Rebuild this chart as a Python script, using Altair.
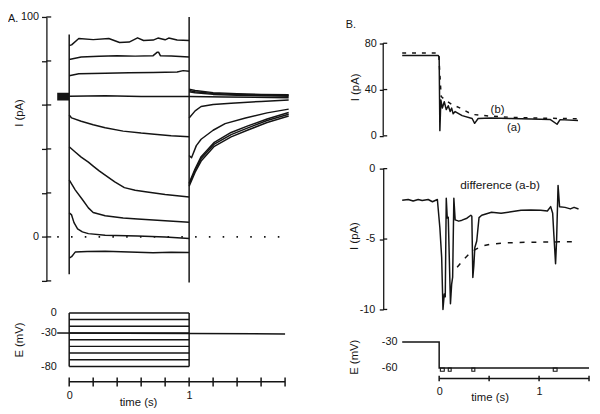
import altair as alt
import pandas as pd

FONT = "Liberation Sans"
INK = "#141414"
LW = 1.5

# ---------------- Panel A : currents (pA) ----------------
hold_t0, hold_t1, hold_lo, hold_hi = -0.1, 0.0, 62.0, 65.5

i0_t = [0.0, 0.02, 0.08, 0.2, 0.33, 0.42, 0.5, 0.57, 0.62, 0.7, 0.74, 0.8, 0.83, 0.9, 1.0]
i0_v = [87.0, 87.3, 90.2, 89.7, 90.2, 88.4, 88.6, 90.5, 89.3, 89.5, 90.4, 89.6, 90.4, 89.5, 89.3]
i10_t = [0.0, 0.1, 0.25, 0.4, 0.55, 0.7, 0.735, 0.745, 0.76, 0.85, 1.0]
i10_v = [80.7, 81.8, 82.1, 82.4, 82.2, 82.4, 84.0, 84.0, 82.4, 82.3, 81.8]
i20_t = [0.0, 0.08, 0.3, 0.5, 0.7, 0.9, 0.95, 1.0]
i20_v = [73.3, 74.2, 74.4, 74.6, 74.8, 75.0, 75.6, 75.3]
i30_t = [0.0, 0.3, 0.6, 1.0, 1.3, 1.83]
i30_v = [64.0, 64.2, 63.8, 63.8, 63.6, 63.3]
i40_t = [0.0, 0.02, 0.1, 0.2, 0.3, 0.45, 0.6, 0.71, 0.85, 1.0]
i40_v = [55.5, 54.1, 52.6, 51.0, 49.6, 48.1, 47.2, 46.7, 46.0, 45.5]
i50_t = [0.0, 0.05, 0.1, 0.16, 0.2, 0.25, 0.3, 0.38, 0.46, 0.55, 0.65, 0.8, 1.0]
i50_v = [41.0, 38.6, 36.3, 34.0, 32.2, 30.0, 28.1, 25.0, 22.4, 21.2, 20.4, 19.3, 18.1]
i60_t = [0.0, 0.05, 0.11, 0.16, 0.2, 0.3, 0.45, 0.57, 0.8, 1.0]
i60_v = [25.9, 21.4, 17.0, 13.2, 11.1, 9.6, 8.6, 8.1, 7.3, 6.7]
i70_t = [0.0, 0.02, 0.04, 0.07, 0.11, 0.16, 0.3, 0.57, 0.8, 1.0]
i70_v = [11.0, 10.0, 6.5, 3.7, 2.3, 1.5, 0.8, 0.4, 0.0, -0.7]
i80_t = [0.0, 0.02, 0.05, 0.15, 0.3, 0.5, 0.7, 0.85, 1.0]
i80_v = [-9.6, -9.0, -6.9, -6.6, -6.5, -6.9, -7.2, -7.0, -7.1]

tail_hi_t = [1.0, 1.05, 1.2, 1.4, 1.6, 1.83]
tail0_v = [67.2, 66.6, 65.6, 65.1, 64.8, 64.6]
tail10_v = [66.6, 66.0, 65.2, 64.8, 64.5, 64.3]
tail20_v = [66.0, 65.5, 64.8, 64.4, 64.2, 64.0]
tail40_t = [1.0, 1.05, 1.1, 1.2, 1.35, 1.6, 1.83]
tail40_v = [54.1, 57.3, 59.3, 60.2, 60.8, 61.6, 62.2]
tail50_t = [1.0, 1.02, 1.06, 1.1, 1.2, 1.3, 1.47, 1.65, 1.83]
tail50_v = [37.0, 36.0, 41.5, 44.4, 48.5, 51.5, 54.1, 56.4, 58.1]
tail_lo_t = [1.0, 1.05, 1.1, 1.21, 1.35, 1.49, 1.65, 1.83]
tail60_v = [24.5, 31.0, 36.5, 43.0, 47.5, 50.5, 53.6, 56.6]
tail70_v = [23.8, 30.3, 35.6, 42.2, 46.5, 49.6, 52.9, 55.8]
tail80_v = [23.0, 29.4, 34.5, 41.2, 45.5, 48.6, 52.0, 55.0]

trans_t = [0.0, 1.0]
trans_top = [92.0, 100.0]
trans_bot = [-17.0, -20.7]
zero_t0, zero_t1 = -0.1, 1.83
iA_ticks = [-20, 0, 20, 40, 60, 80, 100]

# ---------------- Panel A : voltage protocol (mV) ----------------
step_levels = [0, -10, -20, -30, -40, -50, -60, -70, -80]
step_t = [0.0, 1.0]
holdE_t = [-0.1, 1.8]
holdE_v = [-30.0, -31.5]
edgeE_t = [0.0, 1.0]
edgeE_top, edgeE_bot = 0, -80
timeA_ticks = [0.0, 0.2, 0.4, 0.6, 0.8, 1.0, 1.2, 1.4, 1.6, 1.8]
timeA_axis_y = -103

# ---------------- Panel B : currents (a), (b) ----------------
ia_t = [-0.37, -0.01, 0.0, 0.007, 0.017, 0.032, 0.051, 0.071, 0.091, 0.11, 0.125, 0.14, 0.16,
        0.23, 0.33, 0.355, 0.39, 0.52, 0.72, 0.92, 1.11, 1.18, 1.21, 1.39]
ia_v = [69.5, 69.5, 68.0, 4.5, 31.0, 24.0, 29.5, 22.7, 26.0, 21.0, 24.0, 19.0, 21.0,
        17.5, 15.0, 10.8, 15.0, 15.5, 15.0, 14.6, 14.2, 10.0, 14.0, 13.3]
ib_t = [-0.37, -0.005, 0.02, 0.06, 0.13, 0.2, 0.33, 0.52, 0.72, 1.0, 1.39]
ib_v = [71.5, 71.5, 34.0, 31.0, 27.0, 24.4, 18.5, 17.0, 16.0, 15.3, 14.8]
iB_ticks = [0, 40, 80]
iB_axis_top = 80

# ---------------- Panel B : difference (a-b) ----------------
d_t = [-0.37, -0.31, -0.26, -0.21, -0.17, -0.11, -0.067, -0.018, 0.007, 0.025, 0.038, 0.051, 0.061,
       0.071, 0.081, 0.091, 0.113, 0.125, 0.135, 0.147, 0.16, 0.196, 0.229, 0.278, 0.317, 0.327,
       0.337, 0.347, 0.357, 0.376, 0.399, 0.426, 0.524, 0.62, 0.72, 0.82, 0.917, 1.016, 1.083,
       1.116, 1.136, 1.148, 1.165, 1.175, 1.19, 1.205, 1.26, 1.313, 1.35, 1.395]
d_v = [-2.24, -2.19, -2.3, -2.19, -2.26, -2.19, -2.35, -2.19, -4.2, -6.3, -10.0, -8.9, -9.1,
       -2.1, -3.5, -3.45, -9.6, -8.2, -7.7, -2.1, -3.64, -3.73, -3.66, -3.52, -3.31, -3.38,
       -7.73, -6.9, -5.6, -5.14, -3.48, -3.31, -3.1, -3.17, -3.06, -2.96, -2.94, -2.96, -3.01,
       -2.7, -3.17, -4.7, -6.75, -5.16, -1.19, -2.7, -2.75, -2.86, -2.75, -2.87]
fit_t = [0.18, 0.24, 0.3, 0.36, 0.43, 0.52, 0.65, 0.8, 1.0, 1.2, 1.39]
fit_v = [-7.0, -6.5, -6.05, -5.75, -5.5, -5.36, -5.28, -5.24, -5.22, -5.2, -5.2]
dB_ticks = [0, -5, -10]

# ---------------- Panel B : voltage (mV) ----------------
eB_t = [-0.37, 0.0, 0.0, 1.5]
eB_v = [-30.0, -30.0, -60.0, -60.0]
blip_t0 = [0.012, 0.091, 0.327, 1.142]
blip_t1 = [0.051, 0.12, 0.357, 1.18]
blip_top, blip_bot = -60.0, -63.7
timeB_ticks = [0.0, 0.5, 1.0, 1.5]
timeB_axis_y = -72


def rows(name, ts, vs):
    return [{"seg": name, "i": k, "t": t, "v": v} for k, (t, v) in enumerate(zip(ts, vs))]


def neg_label():
    return "datum.value < 0 ? '-' + abs(datum.value) : '' + datum.value"


def panel_title(txt, dx):
    return alt.TitleParams(txt, anchor="start", frame="group", dx=dx, dy=13, offset=0,
                           fontSize=11, fontWeight="normal", font=FONT, color=INK)


def inner_ticks(values, x0, dx, xscale, yscale, yaxis):
    # the half of each axis tick that crosses into the plot, as in the original figure
    df = pd.DataFrame({"t0": [x0] * len(values), "t1": [x0 + dx] * len(values), "v": values})
    return alt.Chart(df).mark_rule(color=INK, strokeWidth=1.3).encode(
        x=alt.X("t0:Q", scale=xscale, axis=None), x2="t1:Q",
        y=alt.Y("v:Q", scale=yscale, axis=yaxis))


# ======== A1 ========
segs = [("s0", i0_t, i0_v), ("s10", i10_t, i10_v), ("s20", i20_t, i20_v), ("s30", i30_t, i30_v),
        ("s40", i40_t, i40_v), ("s50", i50_t, i50_v), ("s60", i60_t, i60_v), ("s70", i70_t, i70_v),
        ("s80", i80_t, i80_v), ("t0", tail_hi_t, tail0_v), ("t10", tail_hi_t, tail10_v),
        ("t20", tail_hi_t, tail20_v), ("t40", tail40_t, tail40_v), ("t50", tail50_t, tail50_v),
        ("t60", tail_lo_t, tail60_v), ("t70", tail_lo_t, tail70_v), ("t80", tail_lo_t, tail80_v)]
dfA1 = pd.DataFrame([r for s in segs for r in rows(*s)])

xA_dom = [-0.19, 1.83]
xA = alt.Scale(domain=xA_dom, nice=False, zero=False)
yA1 = alt.Scale(domain=[-20, 100], nice=False, zero=False)
axA1 = alt.Axis(values=iA_ticks, grid=False, tickSize=5, labelPadding=3, labelFlush=False,
                labelExpr="datum.value == 0 || datum.value == 100 ? '' + datum.value : ''",
                title="I (pA)", titleX=-27, titleY=97, titleBaseline="middle")

A1_lines = alt.Chart(dfA1).mark_line(color=INK, strokeWidth=LW, strokeJoin="round").encode(
    x=alt.X("t:Q", scale=xA, axis=None), y=alt.Y("v:Q", scale=yA1, axis=axA1),
    detail="seg:N", order="i:Q")
A1_hold = alt.Chart(pd.DataFrame({"t0": [hold_t0], "t1": [hold_t1], "lo": [hold_lo], "hi": [hold_hi]})).mark_rect(
    color=INK).encode(x=alt.X("t0:Q", scale=xA, axis=None), x2="t1:Q",
                      y=alt.Y("lo:Q", scale=yA1, axis=axA1), y2="hi:Q")
A1_zero = alt.Chart(pd.DataFrame({"t0": [zero_t0], "t1": [zero_t1], "v": [0]})).mark_rule(
    color=INK, strokeWidth=1.6, strokeDash=[1.6, 12.4]).encode(
    x=alt.X("t0:Q", scale=xA, axis=None), x2="t1:Q", y=alt.Y("v:Q", scale=yA1, axis=axA1))
A1_trans = alt.Chart(pd.DataFrame({"t": trans_t, "top": trans_top, "bot": trans_bot})).mark_rule(
    color=INK, strokeWidth=LW).encode(
    x=alt.X("t:Q", scale=xA, axis=None), y=alt.Y("top:Q", scale=yA1, axis=axA1), y2="bot:Q")
A1_tin = inner_ticks(iA_ticks, xA_dom[0], 0.04, xA, yA1, axA1)

A1 = alt.layer(A1_zero, A1_hold, A1_trans, A1_tin, A1_lines).properties(
    width=246, height=268, title=panel_title("A.", -39))

# ======== A2 ========
dfSteps = pd.DataFrame([{"seg": f"L{lv}", "i": k, "t": t, "v": lv}
                        for lv in step_levels for k, t in enumerate(step_t)])
dfHoldE = pd.DataFrame(rows("hold", holdE_t, holdE_v))
dfStepsAll = pd.concat([dfSteps, dfHoldE], ignore_index=True)

yA2 = alt.Scale(domain=[timeA_axis_y, 0], nice=False, zero=False)
axA2y = alt.Axis(values=[0, -30, -80], grid=False, domain=False, ticks=False, tickSize=0,
                 labelPadding=-10, labelFlush=False, labelExpr=neg_label(),
                 title="E (mV)", titleX=-27, titleY=27, titleBaseline="middle")
axA2x = alt.Axis(values=[0, 1], grid=False, domain=False, ticks=False, tickSize=0, labelPadding=8,
                 labelFlush=False, format="d", title="time (s)", titleX=93, titleY=21,
                 titleBaseline="middle")

A2_lines = alt.Chart(dfStepsAll).mark_line(color=INK, strokeWidth=LW).encode(
    x=alt.X("t:Q", scale=xA, axis=axA2x), y=alt.Y("v:Q", scale=yA2, axis=axA2y),
    detail="seg:N", order="i:Q")
A2_edges = alt.Chart(pd.DataFrame({"t": edgeE_t, "top": [edgeE_top] * 2, "bot": [edgeE_bot] * 2})).mark_rule(
    color=INK, strokeWidth=LW).encode(
    x=alt.X("t:Q", scale=xA, axis=axA2x), y=alt.Y("top:Q", scale=yA2, axis=axA2y), y2="bot:Q")
A2_axis = alt.Chart(pd.DataFrame({"t0": [timeA_ticks[0]], "t1": [timeA_ticks[-1]], "v": [timeA_axis_y]})).mark_rule(
    color=INK, strokeWidth=LW).encode(
    x=alt.X("t0:Q", scale=xA, axis=axA2x), x2="t1:Q", y=alt.Y("v:Q", scale=yA2, axis=axA2y))
A2_ticks = alt.Chart(pd.DataFrame({"t": timeA_ticks, "top": [timeA_axis_y + 6.5] * len(timeA_ticks),
                                   "bot": [timeA_axis_y - 7.0] * len(timeA_ticks)})).mark_rule(
    color=INK, strokeWidth=LW).encode(
    x=alt.X("t:Q", scale=xA, axis=axA2x), y=alt.Y("top:Q", scale=yA2, axis=axA2y), y2="bot:Q")

A2 = alt.layer(A2_lines, A2_edges, A2_axis, A2_ticks).properties(width=246, height=70)

colA = alt.vconcat(A1, A2, spacing=32.5, bounds="flush")

# ======== B1 (plot area reaches up to the top of panel A; axis line drawn 0..80) ========
xB_dom = [-0.56, 1.51]
xB = alt.Scale(domain=xB_dom, nice=False, zero=False)
B1_height = 120.7
yB1 = alt.Scale(domain=[0, 80 * B1_height / 94.0], nice=False, zero=False)
axB1 = alt.Axis(values=iB_ticks, grid=False, domain=False, tickSize=4, labelPadding=3,
                labelFlush=False, title="I (pA)", titleX=-28, titleY=71, titleBaseline="middle")

dfA = pd.DataFrame(rows("a", ia_t, ia_v))
dfB = pd.DataFrame(rows("b", ib_t, ib_v))
B1_axisline = alt.Chart(pd.DataFrame({"t": [xB_dom[0]], "lo": [0], "hi": [iB_axis_top]})).mark_rule(
    color=INK, strokeWidth=1.3).encode(
    x=alt.X("t:Q", scale=xB, axis=None), y=alt.Y("lo:Q", scale=yB1, axis=axB1), y2="hi:Q")
B1_tin = inner_ticks(iB_ticks, xB_dom[0], 0.04, xB, yB1, axB1)
B1_a = alt.Chart(dfA).mark_line(color=INK, strokeWidth=LW, strokeJoin="round").encode(
    x=alt.X("t:Q", scale=xB, axis=None), y=alt.Y("v:Q", scale=yB1, axis=axB1), order="i:Q")
B1_b = alt.Chart(dfB).mark_line(color=INK, strokeWidth=1.5, strokeDash=[4, 6]).encode(
    x=alt.X("t:Q", scale=xB, axis=None), y=alt.Y("v:Q", scale=yB1, axis=axB1), order="i:Q")
B1_txt = alt.Chart(pd.DataFrame({"t": [0.584, 0.748], "v": [22.7, 6.6], "s": ["(b)", "(a)"]})).mark_text(
    font=FONT, fontSize=11.5, color=INK).encode(
    x=alt.X("t:Q", scale=xB, axis=None), y=alt.Y("v:Q", scale=yB1, axis=axB1), text="s:N")

B1 = alt.layer(B1_axisline, B1_tin, B1_b, B1_a, B1_txt).properties(
    width=210, height=B1_height, title=panel_title("B.", -38))

# ======== B2 ========
yB2 = alt.Scale(domain=[-10, 0], nice=False, zero=False)
axB2 = alt.Axis(values=dB_ticks, grid=False, tickSize=4, labelPadding=4.5, labelFlush=False,
                labelExpr=neg_label(), title="I (pA)", titleX=-29.5, titleY=68, titleBaseline="middle")
dfD = pd.DataFrame(rows("d", d_t, d_v))
dfF = pd.DataFrame(rows("f", fit_t, fit_v))
B2_tin = inner_ticks(dB_ticks, xB_dom[0], 0.04, xB, yB2, axB2)
B2_d = alt.Chart(dfD).mark_line(color=INK, strokeWidth=LW, strokeJoin="round").encode(
    x=alt.X("t:Q", scale=xB, axis=None), y=alt.Y("v:Q", scale=yB2, axis=axB2), order="i:Q")
B2_f = alt.Chart(dfF).mark_line(color=INK, strokeWidth=1.5, strokeDash=[5, 7]).encode(
    x=alt.X("t:Q", scale=xB, axis=None), y=alt.Y("v:Q", scale=yB2, axis=axB2), order="i:Q")
B2_txt = alt.Chart(pd.DataFrame({"t": [0.61], "v": [-1.2], "s": ["difference (a-b)"]})).mark_text(
    font=FONT, fontSize=12, color=INK).encode(
    x=alt.X("t:Q", scale=xB, axis=None), y=alt.Y("v:Q", scale=yB2, axis=axB2), text="s:N")
B2 = alt.layer(B2_tin, B2_f, B2_d, B2_txt).properties(width=210, height=143)

# ======== B3 ========
yB3 = alt.Scale(domain=[timeB_axis_y, -30], nice=False, zero=False)
axB3y = alt.Axis(values=[-30, -60], grid=False, domain=False, ticks=False, tickSize=0,
                 labelPadding=-14, labelFlush=False, labelExpr=neg_label(),
                 title="E (mV)", titleX=-29, titleY=15, titleBaseline="middle")
axB3x = alt.Axis(values=[0, 1], grid=False, domain=False, ticks=False, tickSize=0, labelPadding=7,
                 labelFlush=False, format="d", title="time (s)", titleX=108, titleY=19,
                 titleBaseline="middle")
dfE = pd.DataFrame(rows("e", eB_t, eB_v))
B3_e = alt.Chart(dfE).mark_line(color=INK, strokeWidth=LW).encode(
    x=alt.X("t:Q", scale=xB, axis=axB3x), y=alt.Y("v:Q", scale=yB3, axis=axB3y), order="i:Q")
B3_blip = alt.Chart(pd.DataFrame({"t0": blip_t0, "t1": blip_t1, "top": [blip_top] * 4,
                                  "bot": [blip_bot] * 4})).mark_rect(
    fill=None, fillOpacity=0, stroke=INK, strokeWidth=1.1).encode(
    x=alt.X("t0:Q", scale=xB, axis=axB3x), x2="t1:Q",
    y=alt.Y("top:Q", scale=yB3, axis=axB3y), y2="bot:Q")
B3_axis = alt.Chart(pd.DataFrame({"t0": [timeB_ticks[0]], "t1": [timeB_ticks[-1]], "v": [timeB_axis_y]})).mark_rule(
    color=INK, strokeWidth=LW).encode(
    x=alt.X("t0:Q", scale=xB, axis=axB3x), x2="t1:Q", y=alt.Y("v:Q", scale=yB3, axis=axB3y))
B3_ticks = alt.Chart(pd.DataFrame({"t": timeB_ticks, "top": [timeB_axis_y + 3.0] * 4,
                                   "bot": [timeB_axis_y - 3.2] * 4})).mark_rule(
    color=INK, strokeWidth=LW).encode(
    x=alt.X("t:Q", scale=xB, axis=axB3x), y=alt.Y("top:Q", scale=yB3, axis=axB3y), y2="bot:Q")
B3 = alt.layer(B3_e, B3_blip, B3_axis, B3_ticks).properties(width=210, height=37)

colB = alt.vconcat(B1, B2, B3, spacing=33, bounds="flush")

chart = alt.hconcat(colA, colB, spacing=57).properties(padding=0).configure_view(
    stroke=None).configure_axis(
    labelFont=FONT, titleFont=FONT, labelFontSize=11, titleFontSize=11.5, labelColor=INK,
    titleColor=INK, titleFontWeight="normal", domainColor=INK, tickColor=INK, domainWidth=1.3,
    tickWidth=1.3, grid=False)

chart.save("out.html", embed_options={"renderer": "svg", "actions": False})
